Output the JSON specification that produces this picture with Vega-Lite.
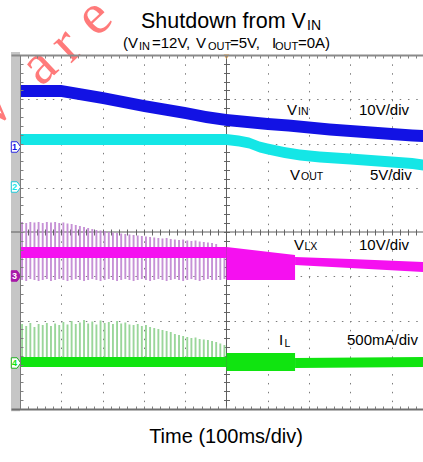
{
  "$schema": "https://vega.github.io/schema/vega-lite/v6.json",
  "width": 412,
  "height": 354,
  "autosize": {"type": "none"},
  "padding": {"left": 11, "top": 55, "right": 0, "bottom": 53},
  "background": "white",
  "config": {"view": {"stroke": null}, "font": "Liberation Sans"},
  "datasets": {
    "bands": [
      {"ch": "VIN", "seg": "vin", "t": 0, "hi": 3.322, "lo": 3.05},
      {"ch": "VIN", "seg": "vin", "t": 0.5, "hi": 3.322, "lo": 3.05},
      {"ch": "VIN", "seg": "vin", "t": 1, "hi": 3.322, "lo": 3.05},
      {"ch": "VIN", "seg": "vin", "t": 1.5, "hi": 3.243, "lo": 2.971},
      {"ch": "VIN", "seg": "vin", "t": 2, "hi": 3.164, "lo": 2.892},
      {"ch": "VIN", "seg": "vin", "t": 2.5, "hi": 3.074, "lo": 2.802},
      {"ch": "VIN", "seg": "vin", "t": 3, "hi": 2.983, "lo": 2.711},
      {"ch": "VIN", "seg": "vin", "t": 3.5, "hi": 2.904, "lo": 2.632},
      {"ch": "VIN", "seg": "vin", "t": 4, "hi": 2.825, "lo": 2.553},
      {"ch": "VIN", "seg": "vin", "t": 4.5, "hi": 2.735, "lo": 2.463},
      {"ch": "VIN", "seg": "vin", "t": 5, "hi": 2.667, "lo": 2.395},
      {"ch": "VIN", "seg": "vin", "t": 5.5, "hi": 2.622, "lo": 2.35},
      {"ch": "VIN", "seg": "vin", "t": 6, "hi": 2.577, "lo": 2.305},
      {"ch": "VIN", "seg": "vin", "t": 6.5, "hi": 2.543, "lo": 2.271},
      {"ch": "VIN", "seg": "vin", "t": 7, "hi": 2.498, "lo": 2.226},
      {"ch": "VIN", "seg": "vin", "t": 7.5, "hi": 2.452, "lo": 2.18},
      {"ch": "VIN", "seg": "vin", "t": 8, "hi": 2.418, "lo": 2.146},
      {"ch": "VIN", "seg": "vin", "t": 8.5, "hi": 2.385, "lo": 2.113},
      {"ch": "VIN", "seg": "vin", "t": 9, "hi": 2.351, "lo": 2.079},
      {"ch": "VIN", "seg": "vin", "t": 9.5, "hi": 2.317, "lo": 2.045},
      {"ch": "VIN", "seg": "vin", "t": 9.76, "hi": 2.305, "lo": 2.033},
      {"ch": "VOUT", "seg": "vout", "t": 0, "hi": 2.215, "lo": 1.965},
      {"ch": "VOUT", "seg": "vout", "t": 5, "hi": 2.215, "lo": 1.965},
      {"ch": "VOUT", "seg": "vout", "t": 5.3, "hi": 2.181, "lo": 1.931},
      {"ch": "VOUT", "seg": "vout", "t": 5.55, "hi": 2.136, "lo": 1.886},
      {"ch": "VOUT", "seg": "vout", "t": 5.8, "hi": 2.046, "lo": 1.796},
      {"ch": "VOUT", "seg": "vout", "t": 6, "hi": 2.001, "lo": 1.751},
      {"ch": "VOUT", "seg": "vout", "t": 6.4, "hi": 1.922, "lo": 1.672},
      {"ch": "VOUT", "seg": "vout", "t": 6.78, "hi": 1.865, "lo": 1.615},
      {"ch": "VOUT", "seg": "vout", "t": 7.26, "hi": 1.82, "lo": 1.57},
      {"ch": "VOUT", "seg": "vout", "t": 8, "hi": 1.775, "lo": 1.525},
      {"ch": "VOUT", "seg": "vout", "t": 8.5, "hi": 1.741, "lo": 1.491},
      {"ch": "VOUT", "seg": "vout", "t": 9, "hi": 1.707, "lo": 1.457},
      {"ch": "VOUT", "seg": "vout", "t": 9.5, "hi": 1.673, "lo": 1.423},
      {"ch": "VOUT", "seg": "vout", "t": 9.76, "hi": 1.639, "lo": 1.389},
      {"ch": "VLX", "seg": "vlx_a", "t": 0, "hi": -0.339, "lo": -0.588},
      {"ch": "VLX", "seg": "vlx_a", "t": 5, "hi": -0.339, "lo": -0.588},
      {"ch": "VLX", "seg": "vlx_b", "t": 5, "hi": -0.339, "lo": -1.085},
      {"ch": "VLX", "seg": "vlx_b", "t": 6.66, "hi": -0.52, "lo": -1.085},
      {"ch": "VLX", "seg": "vlx_c", "t": 6.66, "hi": -0.565, "lo": -0.746},
      {"ch": "VLX", "seg": "vlx_c", "t": 8, "hi": -0.61, "lo": -0.814},
      {"ch": "VLX", "seg": "vlx_c", "t": 9.76, "hi": -0.678, "lo": -0.904},
      {"ch": "IL", "seg": "il_a", "t": 0, "hi": -2.825, "lo": -3.051},
      {"ch": "IL", "seg": "il_a", "t": 5, "hi": -2.825, "lo": -3.051},
      {"ch": "IL", "seg": "il_b", "t": 5, "hi": -2.734, "lo": -3.141},
      {"ch": "IL", "seg": "il_b", "t": 6.66, "hi": -2.734, "lo": -3.141},
      {"ch": "IL", "seg": "il_c", "t": 6.66, "hi": -2.847, "lo": -3.073},
      {"ch": "IL", "seg": "il_c", "t": 9.76, "hi": -2.825, "lo": -3.051}
    ],
    "vlxspk": [
      {"t": 0.05, "top": 0.226, "bot": -1.085}, {"t": 0.15, "top": 0.203, "bot": -1.108},
      {"t": 0.25, "top": 0.226, "bot": -1.063}, {"t": 0.35, "top": 0.215, "bot": -1.085},
      {"t": 0.45, "top": 0.226, "bot": -1.108}, {"t": 0.55, "top": 0.203, "bot": -1.085},
      {"t": 0.65, "top": 0.226, "bot": -1.063}, {"t": 0.75, "top": 0.215, "bot": -1.108},
      {"t": 0.85, "top": 0.226, "bot": -1.085}, {"t": 0.95, "top": 0.203, "bot": -1.063},
      {"t": 1.05, "top": 0.215, "bot": -1.085}, {"t": 1.15, "top": 0.192, "bot": -1.108},
      {"t": 1.25, "top": 0.181, "bot": -1.085}, {"t": 1.35, "top": 0.158, "bot": -1.063},
      {"t": 1.45, "top": 0.136, "bot": -1.085}, {"t": 1.55, "top": 0.113, "bot": -1.108},
      {"t": 1.65, "top": 0.09, "bot": -1.085}, {"t": 1.75, "top": 0.068, "bot": -1.063},
      {"t": 1.85, "top": 0.045, "bot": -1.085}, {"t": 1.95, "top": 0.034, "bot": -1.108},
      {"t": 2.05, "top": 0.023, "bot": -1.085}, {"t": 2.15, "top": 0.0, "bot": -1.063},
      {"t": 2.25, "top": -0.011, "bot": -1.085}, {"t": 2.35, "top": -0.023, "bot": -1.108},
      {"t": 2.45, "top": -0.034, "bot": -1.085}, {"t": 2.55, "top": -0.045, "bot": -1.063},
      {"t": 2.65, "top": -0.056, "bot": -1.085}, {"t": 2.75, "top": -0.068, "bot": -1.108},
      {"t": 2.85, "top": -0.079, "bot": -1.085}, {"t": 2.95, "top": -0.09, "bot": -1.063},
      {"t": 3.05, "top": -0.102, "bot": -1.085}, {"t": 3.15, "top": -0.113, "bot": -1.108},
      {"t": 3.25, "top": -0.124, "bot": -1.085}, {"t": 3.35, "top": -0.136, "bot": -1.063},
      {"t": 3.45, "top": -0.147, "bot": -1.085}, {"t": 3.55, "top": -0.136, "bot": -1.108},
      {"t": 3.65, "top": -0.158, "bot": -1.085}, {"t": 3.75, "top": -0.17, "bot": -1.063},
      {"t": 3.85, "top": -0.181, "bot": -1.085}, {"t": 3.95, "top": -0.17, "bot": -1.108},
      {"t": 4.05, "top": -0.192, "bot": -1.085}, {"t": 4.15, "top": -0.203, "bot": -1.063},
      {"t": 4.25, "top": -0.192, "bot": -1.085}, {"t": 4.35, "top": -0.215, "bot": -1.108},
      {"t": 4.45, "top": -0.226, "bot": -1.085}, {"t": 4.55, "top": -0.237, "bot": -1.063},
      {"t": 4.65, "top": -0.249, "bot": -1.085}, {"t": 4.75, "top": -0.271, "bot": -1.085},
      {"t": 4.85, "top": -0.339, "bot": -1.085}, {"t": 4.95, "top": -0.407, "bot": -1.063}
    ],
    "ilspk": [
      {"t": 0.05, "top": -2.079}, {"t": 0.15, "top": -2.124}, {"t": 0.25, "top": -2.056},
      {"t": 0.35, "top": -2.147}, {"t": 0.45, "top": -2.079}, {"t": 0.55, "top": -2.102},
      {"t": 0.65, "top": -2.056}, {"t": 0.75, "top": -2.124}, {"t": 0.85, "top": -2.068},
      {"t": 0.95, "top": -2.102}, {"t": 1.05, "top": -2.034}, {"t": 1.15, "top": -2.09},
      {"t": 1.25, "top": -2.011}, {"t": 1.35, "top": -2.079}, {"t": 1.45, "top": -2.045},
      {"t": 1.55, "top": -1.989}, {"t": 1.65, "top": -2.068}, {"t": 1.75, "top": -2.023},
      {"t": 1.85, "top": -2.09}, {"t": 1.95, "top": -2.0}, {"t": 2.05, "top": -2.056},
      {"t": 2.15, "top": -2.034}, {"t": 2.25, "top": -2.079}, {"t": 2.35, "top": -2.011},
      {"t": 2.45, "top": -2.068}, {"t": 2.55, "top": -2.045}, {"t": 2.65, "top": -2.09},
      {"t": 2.75, "top": -2.102}, {"t": 2.85, "top": -2.079}, {"t": 2.95, "top": -2.124},
      {"t": 3.05, "top": -2.102}, {"t": 3.15, "top": -2.147}, {"t": 3.25, "top": -2.17},
      {"t": 3.35, "top": -2.192}, {"t": 3.45, "top": -2.215}, {"t": 3.55, "top": -2.237},
      {"t": 3.65, "top": -2.26}, {"t": 3.75, "top": -2.305}, {"t": 3.85, "top": -2.328},
      {"t": 3.95, "top": -2.35}, {"t": 4.05, "top": -2.373}, {"t": 4.15, "top": -2.395},
      {"t": 4.25, "top": -2.384}, {"t": 4.35, "top": -2.418}, {"t": 4.45, "top": -2.429},
      {"t": 4.55, "top": -2.441}, {"t": 4.65, "top": -2.463}, {"t": 4.75, "top": -2.486},
      {"t": 4.85, "top": -2.52}, {"t": 4.95, "top": -2.554}
    ],
    "texts": [
      {"txt": "Shutdown from V", "t": 2.93, "v": 4.603, "kind": "t1"},
      {"txt": "IN", "t": 6.95, "v": 4.576, "kind": "t1s"},
      {"txt": "(V", "t": 2.494, "v": 4.151, "kind": "t2"},
      {"txt": "IN", "t": 2.881, "v": 4.118, "kind": "t2s"},
      {"txt": "=12V,", "t": 3.196, "v": 4.151, "kind": "t2"},
      {"txt": "V", "t": 4.262, "v": 4.151, "kind": "t2"},
      {"txt": "OUT", "t": 4.552, "v": 4.118, "kind": "t2s"},
      {"txt": "=5V,", "t": 5.085, "v": 4.151, "kind": "t2"},
      {"txt": "I", "t": 6.102, "v": 4.151, "kind": "t2"},
      {"txt": "OUT", "t": 6.174, "v": 4.118, "kind": "t2s"},
      {"txt": "=0A)", "t": 6.731, "v": 4.151, "kind": "t2"},
      {"txt": "V", "t": 6.465, "v": 2.644, "kind": "lab"},
      {"txt": "IN", "t": 6.731, "v": 2.644, "kind": "labs"},
      {"txt": "10V/div", "t": 8.208, "v": 2.644, "kind": "lab"},
      {"txt": "V", "t": 6.538, "v": 1.175, "kind": "lab"},
      {"txt": "OUT", "t": 6.804, "v": 1.175, "kind": "labs"},
      {"txt": "5V/div", "t": 8.475, "v": 1.175, "kind": "lab"},
      {"txt": "V", "t": 6.634, "v": -0.407, "kind": "lab"},
      {"txt": "LX", "t": 6.889, "v": -0.407, "kind": "labs"},
      {"txt": "10V/div", "t": 8.208, "v": -0.407, "kind": "lab"},
      {"txt": "I", "t": 6.271, "v": -2.554, "kind": "lab"},
      {"txt": "L", "t": 6.404, "v": -2.599, "kind": "labs"},
      {"txt": "500mA/div", "t": 7.918, "v": -2.554, "kind": "lab"},
      {"txt": "Time (100ms/div)", "t": 4.988, "v": -4.768, "kind": "xt"}
    ],
    "marks": [
      {"ch": "VIN", "num": "1", "v": 1.921},
      {"ch": "VOUT", "num": "2", "v": 1.017},
      {"ch": "VLX", "num": "3", "v": -0.994},
      {"ch": "IL", "num": "4", "v": -2.96}
    ],
    "wm": [
      {"ch": "w", "t": -0.775, "v": 2.712},
      {"ch": "a", "t": 0.46, "v": 3.751},
      {"ch": "r", "t": 1.114, "v": 4.226},
      {"ch": "e", "t": 1.792, "v": 4.859}
    ]
  },
  "resolve": {"axis": {"x": "independent", "y": "independent"}},
  "layer": [
    {
      "data": {"values": [{}]},
      "mark": {"type": "rect", "color": "#c6c6c6"},
      "encoding": {
        "x": {"datum": -0.218, "type": "quantitative", "scale": {"domain": [-0.218, 9.758], "nice": false, "zero": false},
          "axis": {"orient": "top", "values": [0,0.2,0.4,0.6,0.8,1,1.2,1.4,1.6,1.8,2,2.2,2.4,2.6,2.8,3,3.2,3.4,3.6,3.8,4,4.2,4.4,4.6,4.8,5,5.2,5.4,5.6,5.8,6,6.2,6.4,6.6,6.8,7,7.2,7.4,7.6,7.8,8,8.2,8.4,8.6,8.8,9,9.2,9.4,9.6],
            "tickSize": -3, "tickColor": "#808080", "domain": true, "domainColor": "#8a8a8a", "domainWidth": 2, "labels": false, "grid": false, "title": null, "zindex": 1}},
        "x2": {"datum": 0},
        "y": {"datum": 4.07, "type": "quantitative", "scale": {"domain": [-4, 4], "nice": false, "zero": false},
          "axis": {"orient": "left", "offset": -9, "values": [-3.8,-3.6,-3.4,-3.2,-3,-2.8,-2.6,-2.4,-2.2,-2,-1.8,-1.6,-1.4,-1.2,-1,-0.8,-0.6,-0.4,-0.2,0,0.2,0.4,0.6,0.8,1,1.2,1.4,1.6,1.8,2,2.2,2.4,2.6,2.8,3,3.2,3.4,3.6,3.8],
            "tickSize": -3, "tickColor": "#808080", "domain": true, "domainColor": "#7a7a7a", "domainWidth": 1, "labels": false, "grid": false, "title": null, "zindex": 1}},
        "y2": {"datum": -4.05}
      }
    },
    {
      "data": {"values": [{}]},
      "mark": {"type": "rule", "color": "#5e5e5e", "strokeWidth": 1},
      "encoding": {
        "x": {"datum": 5, "type": "quantitative", "scale": {"domain": [-0.218, 9.758], "nice": false, "zero": false},
          "axis": {"orient": "bottom", "values": [0,0.2,0.4,0.6,0.8,1,1.2,1.4,1.6,1.8,2,2.2,2.4,2.6,2.8,3,3.2,3.4,3.6,3.8,4,4.2,4.4,4.6,4.8,5,5.2,5.4,5.6,5.8,6,6.2,6.4,6.6,6.8,7,7.2,7.4,7.6,7.8,8,8.2,8.4,8.6,8.8,9,9.2,9.4,9.6],
            "tickSize": -3, "tickColor": "#808080", "domain": true, "domainColor": "#707070", "domainWidth": 2, "labels": false, "grid": false, "title": null, "zindex": 1}}
      }
    },
    {
      "data": {"values": [{}]},
      "mark": {"type": "rule", "color": "#5e5e5e", "strokeWidth": 1},
      "encoding": {
        "y": {"datum": 0, "type": "quantitative", "scale": {"domain": [-4, 4], "nice": false, "zero": false},
          "axis": {"orient": "left", "offset": -218.5, "values": [-3.8,-3.6,-3.4,-3.2,-3,-2.8,-2.6,-2.4,-2.2,-2,-1.8,-1.6,-1.4,-1.2,-1,-0.8,-0.6,-0.4,-0.2,0,0.2,0.4,0.6,0.8,1,1.2,1.4,1.6,1.8,2,2.2,2.4,2.6,2.8,3,3.2,3.4,3.6,3.8],
            "tickSize": 6, "tickColor": "#666666", "domain": false, "labels": false, "grid": false, "title": null}}
      }
    },
    {
      "data": {"name": "vlxspk"},
      "mark": {"type": "rule", "color": "#c085d2", "strokeWidth": 1.9, "opacity": 0.9},
      "encoding": {
        "x": {"field": "t", "type": "quantitative", "scale": {"domain": [-0.218, 9.758], "nice": false, "zero": false},
          "axis": {"orient": "bottom", "values": [1,2,3,4,6,7,8,9], "grid": true, "gridColor": "#7c7c7c", "gridDash": [1.5, 7.35], "gridWidth": 1, "ticks": false, "domain": false, "labels": false, "title": null}},
        "y": {"field": "top", "type": "quantitative", "scale": {"domain": [-4, 4], "nice": false, "zero": false},
          "axis": {"orient": "left", "values": [-3,-2,-1,1,2,3], "grid": true, "gridColor": "#7c7c7c", "gridDash": [1.5, 6.76], "gridWidth": 1, "ticks": false, "domain": false, "labels": false, "title": null}},
        "y2": {"field": "bot"}
      }
    },
    {
      "data": {"name": "ilspk"},
      "mark": {"type": "rule", "color": "#8fd28f", "strokeWidth": 1.9, "opacity": 0.9},
      "encoding": {
        "x": {"field": "t", "type": "quantitative", "scale": {"domain": [-0.218, 9.758], "nice": false, "zero": false},
          "axis": {"orient": "bottom", "offset": -180, "values": [0,0.2,0.4,0.6,0.8,1,1.2,1.4,1.6,1.8,2,2.2,2.4,2.6,2.8,3,3.2,3.4,3.6,3.8,4,4.2,4.4,4.6,4.8,5,5.2,5.4,5.6,5.8,6,6.2,6.4,6.6,6.8,7,7.2,7.4,7.6,7.8,8,8.2,8.4,8.6,8.8,9,9.2,9.4,9.6],
            "tickSize": 6, "tickColor": "#666666", "domain": false, "labels": false, "grid": false, "title": null}},
        "y": {"field": "top", "type": "quantitative", "scale": {"domain": [-4, 4], "nice": false, "zero": false}, "axis": null},
        "y2": {"datum": -2.938}
      }
    },
    {
      "data": {"name": "bands"},
      "mark": {"type": "area", "opacity": 1},
      "encoding": {
        "x": {"field": "t", "type": "quantitative", "scale": {"domain": [-0.218, 9.758], "nice": false, "zero": false}, "axis": null},
        "y": {"field": "hi", "type": "quantitative", "scale": {"domain": [-4, 4], "nice": false, "zero": false}, "axis": null},
        "y2": {"field": "lo"},
        "detail": {"field": "seg"},
        "color": {"field": "ch", "type": "nominal", "legend": null,
          "scale": {"domain": ["VIN", "VOUT", "VLX", "IL"], "range": ["#1212e4", "#14e6e6", "#f510f0", "#10e410"]}}
      }
    },
    {
      "data": {"name": "marks"},
      "mark": {"type": "point", "shape": "M-0.8,-1 L0.3,-1 L1,0 L0.3,1 L-0.8,1 Z", "size": 110, "strokeWidth": 1, "filled": false, "opacity": 1},
      "encoding": {
        "x": {"datum": -0.109, "type": "quantitative", "scale": {"domain": [-0.218, 9.758], "nice": false, "zero": false}, "axis": null},
        "y": {"field": "v", "type": "quantitative", "scale": {"domain": [-4, 4], "nice": false, "zero": false}, "axis": null},
        "stroke": {"field": "ch", "type": "nominal", "legend": null,
          "scale": {"domain": ["VIN", "VOUT", "VLX", "IL"], "range": ["#2a2ae0", "#20c8d8", "#a818a8", "#20b020"]}},
        "fill": {"condition": {"test": "datum.ch === 'VLX'", "value": "#a818a8"}, "value": "#ffffff"}
      }
    },
    {
      "data": {"name": "marks"},
      "mark": {"type": "text", "fontSize": 9, "fontWeight": "bold", "align": "center", "baseline": "middle", "dx": -1},
      "encoding": {
        "x": {"datum": -0.109, "type": "quantitative", "scale": {"domain": [-0.218, 9.758], "nice": false, "zero": false}, "axis": null},
        "y": {"field": "v", "type": "quantitative", "scale": {"domain": [-4, 4], "nice": false, "zero": false}, "axis": null},
        "text": {"field": "num"},
        "color": {"field": "ch", "type": "nominal", "legend": null,
          "condition": {"test": "datum.ch === 'VLX'", "value": "#ffffff"}}
      }
    },
    {
      "data": {"values": [{}]},
      "mark": {"type": "point", "shape": "triangle-down", "size": 30, "filled": true, "color": "#ff9a1a", "opacity": 1},
      "encoding": {
        "x": {"datum": 5, "type": "quantitative", "scale": {"domain": [-0.218, 9.758], "nice": false, "zero": false}, "axis": null},
        "y": {"datum": 3.955, "type": "quantitative", "scale": {"domain": [-4, 4], "nice": false, "zero": false}, "axis": null}
      }
    },
    {
      "data": {"name": "wm"},
      "mark": {"type": "text", "font": "Liberation Serif", "fontSize": 58, "angle": -43, "align": "center", "baseline": "middle", "color": "#ff5a5a", "opacity": 0.8},
      "encoding": {
        "x": {"field": "t", "type": "quantitative", "scale": {"domain": [-0.218, 9.758], "nice": false, "zero": false}, "axis": null},
        "y": {"field": "v", "type": "quantitative", "scale": {"domain": [-4, 4], "nice": false, "zero": false}, "axis": null},
        "text": {"field": "ch"}
      }
    },
    {
      "data": {"name": "texts"},
      "transform": [{"filter": "datum.kind === 't1'"}],
      "mark": {"type": "text", "fontSize": 21.5, "align": "left", "baseline": "alphabetic", "color": "#000000"},
      "encoding": {
        "x": {"field": "t", "type": "quantitative", "scale": {"domain": [-0.218, 9.758], "nice": false, "zero": false}, "axis": null},
        "y": {"field": "v", "type": "quantitative", "scale": {"domain": [-4, 4], "nice": false, "zero": false}, "axis": null},
        "text": {"field": "txt"}
      }
    },
    {
      "data": {"name": "texts"},
      "transform": [{"filter": "datum.kind === 't1s'"}],
      "mark": {"type": "text", "fontSize": 14, "align": "left", "baseline": "alphabetic", "color": "#000000"},
      "encoding": {
        "x": {"field": "t", "type": "quantitative", "scale": {"domain": [-0.218, 9.758], "nice": false, "zero": false}, "axis": null},
        "y": {"field": "v", "type": "quantitative", "scale": {"domain": [-4, 4], "nice": false, "zero": false}, "axis": null},
        "text": {"field": "txt"}
      }
    },
    {
      "data": {"name": "texts"},
      "transform": [{"filter": "datum.kind === 't2'"}],
      "mark": {"type": "text", "fontSize": 15, "align": "left", "baseline": "alphabetic", "color": "#000000"},
      "encoding": {
        "x": {"field": "t", "type": "quantitative", "scale": {"domain": [-0.218, 9.758], "nice": false, "zero": false}, "axis": null},
        "y": {"field": "v", "type": "quantitative", "scale": {"domain": [-4, 4], "nice": false, "zero": false}, "axis": null},
        "text": {"field": "txt"}
      }
    },
    {
      "data": {"name": "texts"},
      "transform": [{"filter": "datum.kind === 't2s'"}],
      "mark": {"type": "text", "fontSize": 11, "align": "left", "baseline": "alphabetic", "color": "#000000"},
      "encoding": {
        "x": {"field": "t", "type": "quantitative", "scale": {"domain": [-0.218, 9.758], "nice": false, "zero": false}, "axis": null},
        "y": {"field": "v", "type": "quantitative", "scale": {"domain": [-4, 4], "nice": false, "zero": false}, "axis": null},
        "text": {"field": "txt"}
      }
    },
    {
      "data": {"name": "texts"},
      "transform": [{"filter": "datum.kind === 'lab'"}],
      "mark": {"type": "text", "fontSize": 15, "align": "left", "baseline": "alphabetic", "color": "#000000"},
      "encoding": {
        "x": {"field": "t", "type": "quantitative", "scale": {"domain": [-0.218, 9.758], "nice": false, "zero": false}, "axis": null},
        "y": {"field": "v", "type": "quantitative", "scale": {"domain": [-4, 4], "nice": false, "zero": false}, "axis": null},
        "text": {"field": "txt"}
      }
    },
    {
      "data": {"name": "texts"},
      "transform": [{"filter": "datum.kind === 'labs'"}],
      "mark": {"type": "text", "fontSize": 10.5, "align": "left", "baseline": "alphabetic", "color": "#000000"},
      "encoding": {
        "x": {"field": "t", "type": "quantitative", "scale": {"domain": [-0.218, 9.758], "nice": false, "zero": false}, "axis": null},
        "y": {"field": "v", "type": "quantitative", "scale": {"domain": [-4, 4], "nice": false, "zero": false}, "axis": null},
        "text": {"field": "txt"}
      }
    },
    {
      "data": {"name": "texts"},
      "transform": [{"filter": "datum.kind === 'xt'"}],
      "mark": {"type": "text", "fontSize": 20, "align": "center", "baseline": "alphabetic", "color": "#000000"},
      "encoding": {
        "x": {"field": "t", "type": "quantitative", "scale": {"domain": [-0.218, 9.758], "nice": false, "zero": false}, "axis": null},
        "y": {"field": "v", "type": "quantitative", "scale": {"domain": [-4, 4], "nice": false, "zero": false}, "axis": null},
        "text": {"field": "txt"}
      }
    }
  ]
}
